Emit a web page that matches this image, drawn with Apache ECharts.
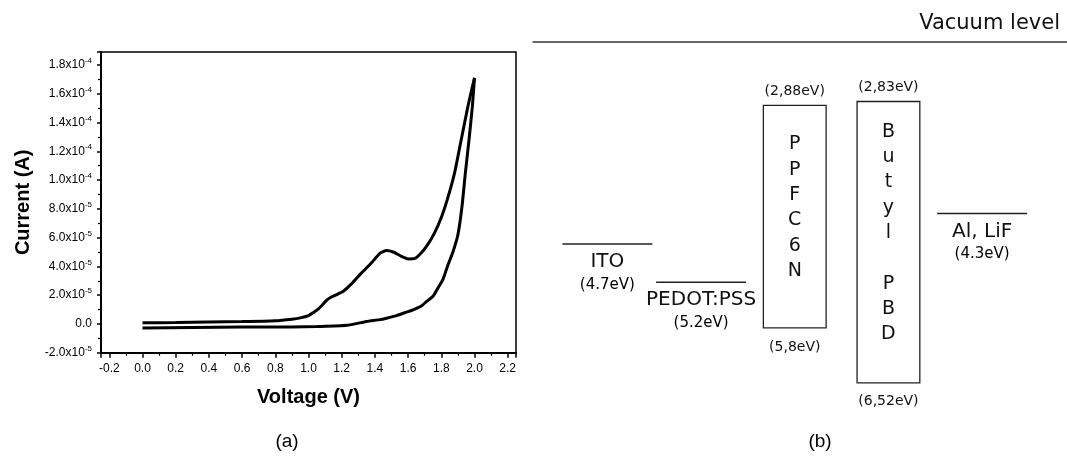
<!DOCTYPE html>
<html>
<head>
<meta charset="utf-8">
<title>I-V and energy levels</title>
<script src="https://cdn.jsdelivr.net/npm/echarts@6/dist/echarts.min.js"></script>
<style>
  html, body { margin: 0; padding: 0; background: #fff; }
  #main { width: 1067px; height: 458px; }
</style>
</head>
<body>
<div id="main"></div>
<script type="text/javascript">
// (a) current-voltage sweep (current in units of 1e-5 A)
var fwdV = [0.00, 0.20, 0.40, 0.60, 0.80, 0.90, 0.95, 1.00, 1.03, 1.06, 1.09, 1.11, 1.13, 1.16, 1.21, 1.26, 1.32, 1.38, 1.43, 1.47, 1.51, 1.56, 1.60, 1.64, 1.68, 1.72, 1.76, 1.80, 1.84, 1.88, 1.92, 1.96, 2.00];
var fwdI = [0.08, 0.10, 0.13, 0.16, 0.22, 0.33, 0.42, 0.58, 0.80, 1.05, 1.40, 1.65, 1.82, 1.98, 2.27, 2.80, 3.55, 4.25, 4.90, 5.10, 5.00, 4.70, 4.52, 4.55, 4.95, 5.55, 6.35, 7.40, 8.80, 10.5, 12.8, 15.1, 17.1];
var revV = [2.00, 1.987, 1.967, 1.945, 1.925, 1.90, 1.87, 1.84, 1.81, 1.78, 1.75, 1.71, 1.68, 1.63, 1.59, 1.53, 1.47, 1.43, 1.35, 1.23, 1.05, 0.90, 0.60, 0.30, 0.00];
var revI = [17.1, 15.1, 12.8, 10.5, 8.2, 6.2, 5.0, 4.1, 3.1, 2.5, 1.92, 1.55, 1.25, 0.98, 0.82, 0.58, 0.40, 0.30, 0.17, -0.10, -0.18, -0.21, -0.22, -0.25, -0.28];

// (b) energy levels (eV below vacuum)
var levelSlot = [0, 1, 4];
var levelNames = ['ITO', 'PEDOT:PSS', 'Al, LiF'];
var levelEnergy = [4.7, 5.2, 4.3];
var levelLabels = ['(4.7eV)', '(5.2eV)', '(4.3eV)'];

var bandSlot = [2, 3];
var bandText = ['P\nP\nF\nC\n6\nN', 'B\nu\nt\ny\nl\n\nP\nB\nD'];
var bandLumo = [2.88, 2.83];
var bandHomo = [5.8, 6.52];
var bandLumoLabels = ['(2,88eV)', '(2,83eV)'];
var bandHomoLabels = ['(5,8eV)', '(6,52eV)'];

var SANS = '"Liberation Sans", Arial, sans-serif';
var DJ = '"DejaVu Sans", sans-serif';

var fwdData = fwdV.map(function (v, i) { return [v, fwdI[i] * 1e-5]; });
var revData = revV.map(function (v, i) { return [v, revI[i] * 1e-5]; });
var levelData = levelSlot.map(function (s, i) { return [s, levelEnergy[i], i]; });
var bandData = bandSlot.map(function (s, i) { return [s, bandLumo[i], bandHomo[i], i]; });

function sciLabel(v) {
    var step = v / 2e-5;
    if (Math.abs(step - Math.round(step)) > 1e-6) return '';
    if (Math.abs(v) < 1e-12) return '{m|0.0}';
    var e = Math.floor(Math.log10(Math.abs(v)) + 1e-9);
    var m = (v / Math.pow(10, e)).toFixed(1);
    return '{m|' + m + 'x10}{e|' + e + '}';
}

function renderLevel(params, api) {
    var i = api.value(2);
    var x = api.value(0), E = api.value(1);
    var p1 = api.coord([x - 0.48, E]);
    var p2 = api.coord([x + 0.48, E]);
    var cx = (p1[0] + p2[0]) / 2;
    return {
        type: 'group',
        children: [
            { type: 'line', shape: { x1: p1[0], y1: p1[1], x2: p2[0], y2: p2[1] },
              style: { stroke: '#222', lineWidth: 1.6 } },
            { type: 'text', x: cx, y: p1[1] + 18,
              style: { text: levelNames[i], fontFamily: DJ, fontSize: 20, fill: '#111', align: 'center', verticalAlign: 'middle' } },
            { type: 'text', x: cx, y: p1[1] + 41,
              style: { text: levelLabels[i], fontFamily: DJ, fontSize: 15, fill: '#000', align: 'center', verticalAlign: 'middle' } }
        ]
    };
}

function renderBand(params, api) {
    var i = api.value(3);
    var x = api.value(0);
    var top = api.coord([x - 0.335, api.value(1)]);
    var bot = api.coord([x + 0.335, api.value(2)]);
    var cx = (top[0] + bot[0]) / 2;
    var cy = (top[1] + bot[1]) / 2;
    return {
        type: 'group',
        children: [
            { type: 'rect', shape: { x: top[0], y: top[1], width: bot[0] - top[0], height: bot[1] - top[1] },
              style: { fill: 'none', stroke: '#222', lineWidth: 1.3 } },
            { type: 'text', x: cx, y: cy - 9,
              style: { text: bandText[i], fontFamily: DJ, fontSize: 19, lineHeight: 25.3, fill: '#111', align: 'center', verticalAlign: 'middle' } },
            { type: 'text', x: cx, y: top[1] - 14,
              style: { text: bandLumoLabels[i], fontFamily: DJ, fontSize: 14, fill: '#111', align: 'center', verticalAlign: 'middle' } },
            { type: 'text', x: cx, y: bot[1] + 19,
              style: { text: bandHomoLabels[i], fontFamily: DJ, fontSize: 14, fill: '#111', align: 'center', verticalAlign: 'middle' } }
        ]
    };
}

var myChart = echarts.init(document.getElementById('main'), null, { renderer: 'canvas' });

var option = {
    backgroundColor: '#fff',
    animation: false,
    textStyle: { fontFamily: SANS, color: '#000' },
    graphic: [
        { type: 'text', x: 1060, y: 24,
          style: { text: 'Vacuum level', fontFamily: DJ, fontSize: 21, fill: '#111', align: 'right', verticalAlign: 'middle' } },
        { type: 'text', x: 287, y: 442,
          style: { text: '(a)', fontFamily: SANS, fontSize: 19, fill: '#000', align: 'center', verticalAlign: 'middle' } },
        { type: 'text', x: 820, y: 442,
          style: { text: '(b)', fontFamily: SANS, fontSize: 19, fill: '#000', align: 'center', verticalAlign: 'middle' } }
    ],
    grid: [
        { left: 101, top: 52, width: 415, height: 300.7, show: true, borderColor: '#000', borderWidth: 1.5, backgroundColor: 'transparent' },
        { left: 533, top: 42, right: 0, bottom: 50 }
    ],
    xAxis: [
        {
            gridIndex: 0,
            type: 'value',
            min: -0.25,
            max: 2.25,
            splitNumber: 12,
            name: 'Voltage (V)',
            nameLocation: 'middle',
            nameGap: 35,
            nameTextStyle: { fontFamily: SANS, fontSize: 20, fontWeight: 'bold', color: '#000' },
            axisLine: { onZero: false, lineStyle: { color: '#000', width: 2 } },
            axisTick: { show: true, length: 5, lineStyle: { color: '#000', width: 1.5 } },
            minorTick: { show: true, splitNumber: 2, length: 3, lineStyle: { color: '#000', width: 1.2 } },
            axisLabel: {
                margin: 10, fontSize: 12, color: '#000', fontFamily: SANS,
                formatter: function (v) {
                    var s = v / 0.2;
                    if (Math.abs(s - Math.round(s)) > 1e-6) return '';
                    return v.toFixed(1);
                }
            },
            splitLine: { show: false }
        },
        {
            gridIndex: 1,
            type: 'value',
            min: -0.794,
            max: 4.906,
            position: 'top',
            axisLine: { onZero: false, lineStyle: { color: '#333', width: 1.5 } },
            axisTick: { show: false },
            axisLabel: { show: false },
            splitLine: { show: false }
        }
    ],
    yAxis: [
        {
            gridIndex: 0,
            type: 'value',
            min: -2e-5,
            max: 1.89e-4,
            interval: 2e-5,
            name: 'Current (A)',
            nameLocation: 'middle',
            nameGap: 68,
            nameTextStyle: { fontFamily: SANS, fontSize: 20, fontWeight: 'bold', color: '#000' },
            axisLine: { onZero: false, lineStyle: { color: '#000', width: 2 } },
            axisTick: { show: true, length: 4, lineStyle: { color: '#000', width: 1.5 } },
            minorTick: { show: true, splitNumber: 2, length: 3, lineStyle: { color: '#000', width: 1.2 } },
            axisLabel: {
                margin: 9, color: '#000',
                formatter: sciLabel,
                rich: {
                    m: { fontSize: 12, fontFamily: SANS, color: '#000', lineHeight: 16 },
                    e: { fontSize: 8, fontFamily: SANS, color: '#000', verticalAlign: 'top', lineHeight: 10 }
                }
            },
            splitLine: { show: false }
        },
        {
            gridIndex: 1,
            type: 'value',
            inverse: true,
            min: 2.05,
            max: 6.85,
            show: false
        }
    ],
    series: [
        {
            name: 'forward',
            type: 'line',
            xAxisIndex: 0, yAxisIndex: 0,
            showSymbol: false,
            smooth: 0.2,
            lineStyle: { color: '#000', width: 3 },
            data: fwdData
        },
        {
            name: 'reverse',
            type: 'line',
            xAxisIndex: 0, yAxisIndex: 0,
            showSymbol: false,
            smooth: 0.2,
            lineStyle: { color: '#000', width: 3 },
            data: revData
        },
        {
            name: 'levels',
            type: 'custom',
            xAxisIndex: 1, yAxisIndex: 1,
            renderItem: renderLevel,
            data: levelData,
            silent: true
        },
        {
            name: 'bands',
            type: 'custom',
            xAxisIndex: 1, yAxisIndex: 1,
            renderItem: renderBand,
            data: bandData,
            silent: true
        }
    ]
};

myChart.setOption(option);
</script>
</body>
</html>
